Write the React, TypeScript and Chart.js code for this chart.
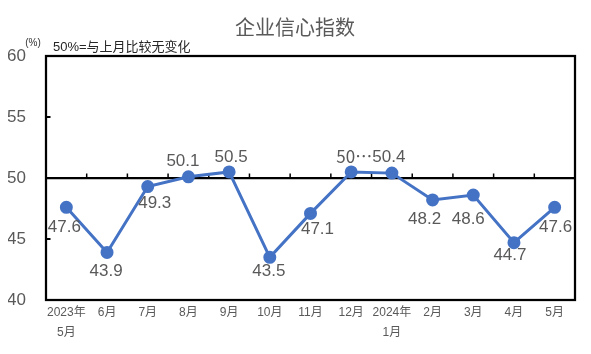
import React, { useEffect, useRef } from "react";
import { Chart, registerables } from "chart.js";

Chart.register(...registerables);

const categories: (string | string[])[] = [
  ["2023年", "5月"], "6月", "7月", "8月", "9月", "10月", "11月", "12月",
  ["2024年", "1月"], "2月", "3月", "4月", "5月",
];
const values: number[] = [47.6, 43.9, 49.3, 50.1, 50.5, 43.5, 47.1, 50.5, 50.4, 48.2, 48.6, 44.7, 47.6];
const valueLabels: string[] = ["47.6", "43.9", "49.3", "50.1", "50.5", "43.5", "47.1", "50…", "50.4", "48.2", "48.6", "44.7", "47.6"];
const yTicks: number[] = [40, 45, 50, 55, 60];
const title = "企业信心指数";
const unitText = "(%)";
const noteText = "50%=与上月比较无变化";

// label offsets (style only): glyph centre relative to point
const labelOffsets: [number, number][] = [
  [-2, 20], [-1, 19], [7, 16.5], [-5.5, -15.7], [2, -15], [-1, 14], [7, 16],
  [3, -14], [-3, -15.5], [-8, 19], [-5, 24], [-4, 12.5], [1, 20],
];

const FONT = "'Liberation Sans', 'Noto Sans CJK SC', sans-serif";
const CJK_FIRST = "'Noto Sans CJK SC', 'Liberation Sans', sans-serif";
const GRAY = "#595959";

const decorPlugin = {
  id: "decor",
  beforeDatasetsDraw(chart: any) {
    const { ctx, chartArea } = chart;
    const x = chart.scales.x;
    const y = chart.scales.y;
    ctx.save();
    ctx.strokeStyle = "#000";
    ctx.lineWidth = 2.25;
    ctx.strokeRect(chartArea.left, chartArea.top, chartArea.right - chartArea.left, chartArea.bottom - chartArea.top);
    const y50 = y.getPixelForValue(50);
    ctx.beginPath();
    ctx.moveTo(chartArea.left, y50);
    ctx.lineTo(chartArea.right, y50);
    ctx.stroke();
    // category tick marks on the 50 line
    ctx.lineWidth = 1.5;
    const n = categories.length;
    for (let i = 1; i < n; i++) {
      const px = (x.getPixelForValue(i - 1) + x.getPixelForValue(i)) / 2;
      ctx.beginPath();
      ctx.moveTo(px, y50);
      ctx.lineTo(px, y50 - 4.5);
      ctx.stroke();
    }
    // y ticks at 45 and 55
    ctx.lineWidth = 2;
    for (const v of [45, 55]) {
      const py = y.getPixelForValue(v);
      ctx.beginPath();
      ctx.moveTo(chartArea.left, py);
      ctx.lineTo(chartArea.left + 4.5, py);
      ctx.stroke();
    }
    ctx.restore();
  },
  afterDatasetsDraw(chart: any) {
    const { ctx } = chart;
    const meta = chart.getDatasetMeta(0);
    ctx.save();
    ctx.fillStyle = GRAY;
    ctx.textAlign = "center";
    ctx.textBaseline = "middle";
    meta.data.forEach((pt: any, i: number) => {
      const [dx, dy] = labelOffsets[i];
      const txt = valueLabels[i];
      ctx.font = txt.includes("…") ? `17px ${CJK_FIRST}` : `17px ${FONT}`;
      ctx.fillText(txt, pt.x + dx, pt.y + dy + (txt.includes("…") ? -1 : 0));
    });
    // title
    ctx.font = `20px ${FONT}`;
    ctx.fillStyle = GRAY;
    ctx.fillText(title, 287, 21);
    // unit & note
    ctx.font = `10px ${FONT}`;
    ctx.fillStyle = "#333";
    ctx.fillText(unitText, 25, 35);
    ctx.textAlign = "left";
    ctx.font = `13px ${FONT}`;
    ctx.fillStyle = "#262626";
    ctx.fillText(noteText, 45, 39);
    ctx.restore();
  },
};

export default function App() {
  const ref = useRef<HTMLCanvasElement | null>(null);
  useEffect(() => {
    if (!ref.current) return;
    const chart = new Chart(ref.current, {
      type: "line",
      data: {
        labels: categories,
        datasets: [
          {
            data: values,
            borderColor: "#4472C4",
            backgroundColor: "#4472C4",
            borderWidth: 3,
            pointRadius: 5,
            pointBackgroundColor: "#4472C4",
            pointBorderColor: "#4472C4",
            tension: 0,
          },
        ],
      },
      options: {
        responsive: false,
        animation: false,
        layout: { padding: { top: 48, right: 5, left: 0, bottom: 0 } },
        plugins: { legend: { display: false }, tooltip: { enabled: false }, title: { display: false } },
        scales: {
          x: {
            offset: true,
            grid: { display: false, drawTicks: false },
            border: { display: false },
            ticks: {
              color: GRAY,
              font: { size: 12, family: FONT, lineHeight: 20 / 12 },
              padding: 3,
              maxRotation: 0,
              autoSkip: false,
            },
            afterFit: (s: any) => { s.height = 46; },
          },
          y: {
            min: 40,
            max: 60,
            afterBuildTicks: (s: any) => { s.ticks = yTicks.map((v) => ({ value: v })); },
            grid: { display: false, drawTicks: false },
            border: { display: false },
            ticks: { color: GRAY, font: { size: 17, family: FONT }, padding: 20 },
            afterFit: (s: any) => { s.width = 38; },
          },
        },
      },
      plugins: [decorPlugin],
    });
    return () => chart.destroy();
  }, []);
  return <canvas ref={ref} width={575} height={338} />;
}
